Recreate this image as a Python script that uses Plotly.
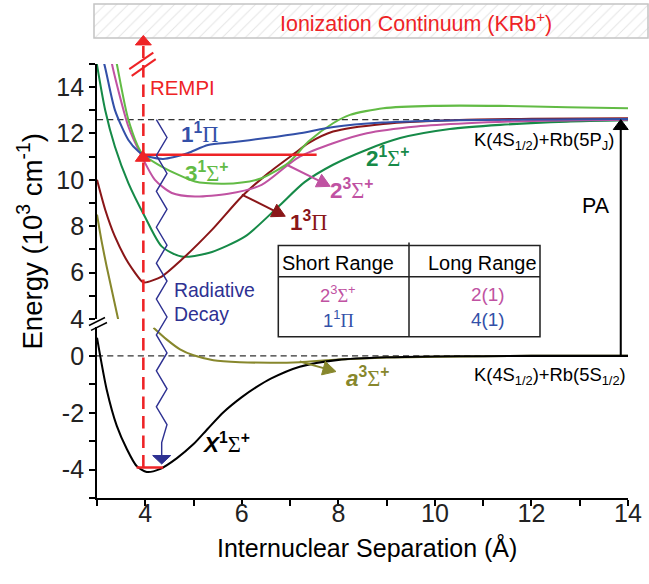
import plotly.graph_objects as go

# ---------------- potential-energy curves: R (Å), E (10^3 cm^-1) ----------------
# upper panel (excited states)
R_1PI = [3.05, 3.15, 3.37, 3.65, 3.86, 3.95, 4.1, 4.37, 4.6, 4.89, 5.3, 5.8, 6.5, 7.2, 7.9, 8.9, 10.0, 11.0, 12.0, 13.0, 14.0]
E_1PI = [15.6, 15.0, 13.02, 11.72, 11.22, 11.1, 10.98, 10.9, 10.98, 11.16, 11.5, 11.62, 11.8, 12.01, 12.28, 12.47, 12.55, 12.58, 12.6, 12.61, 12.62]

R_31S = [3.35, 3.41, 3.65, 3.93, 4.34, 5.03, 5.58, 6.0, 6.41, 6.96, 7.38, 7.89, 8.24, 8.93, 9.96, 11.35, 12.74, 14.0]
E_31S = [15.6, 15.0, 12.59, 11.15, 10.57, 9.93, 9.83, 9.88, 10.07, 10.72, 11.65, 12.44, 12.8, 13.09, 13.19, 13.19, 13.13, 13.09]

R_23S = [3.27, 3.31, 3.65, 3.93, 4.2, 4.55, 5.03, 5.72, 6.41, 6.96, 7.2, 7.89, 8.59, 9.62, 10.66, 12.04, 14.0]
E_23S = [15.6, 15.0, 12.3, 11.0, 10.0, 9.43, 9.28, 9.4, 9.78, 10.65, 11.0, 11.58, 12.01, 12.3, 12.44, 12.54, 12.59]

R_21S = [2.98, 3.17, 3.37, 3.65, 3.99, 4.34, 4.75, 5.31, 6.07, 6.76, 7.3, 7.89, 8.59, 9.28, 10.31, 11.35, 12.73, 14.0]
E_21S = [15.2, 13.0, 11.44, 9.86, 8.42, 7.13, 6.69, 6.84, 7.56, 8.85, 9.9, 10.65, 11.3, 11.8, 12.19, 12.37, 12.51, 12.57]

R_13P = [3.0, 3.17, 3.37, 3.65, 3.93, 3.99, 4.34, 4.75, 5.38, 6.0, 6.55, 7.1, 7.38, 7.89, 8.93, 10.66, 12.0, 14.0]
E_13P = [10.0, 8.71, 7.56, 6.41, 5.62, 5.57, 5.83, 6.55, 7.84, 9.28, 10.29, 11.15, 11.58, 12.08, 12.41, 12.59, 12.63, 12.66]

R_A3S_UP = [3.0, 3.1, 3.2, 3.44]
E_A3S_UP = [8.5, 7.3, 6.26, 3.97]

# lower panel (ground-state asymptote)
R_A3S_LO = [4.17, 4.44, 4.72, 5.0, 5.41, 5.96, 6.65, 7.2, 8.0, 9.0, 10.0, 11.0, 12.0, 14.0]
E_A3S_LO = [0.99, 0.58, 0.23, 0.02, -0.15, -0.22, -0.24, -0.22, -0.13, -0.06, -0.03, -0.01, 0.0, 0.0]

R_X1S = [3.0, 3.2, 3.41, 3.62, 3.82, 4.03, 4.3, 4.65, 5.0, 5.3, 5.62, 6.0, 6.3, 6.6, 7.2, 8.0, 9.0, 10.0, 11.0, 12.0, 14.0]
E_X1S = [0.64, -1.18, -2.46, -3.28, -3.87, -4.08, -3.98, -3.6, -3.1, -2.55, -1.98, -1.45, -1.1, -0.8, -0.38, -0.14, -0.05, -0.02, -0.01, 0.0, 0.0]

# levels and asymptotes
E_5P = 12.6          # K(4S1/2)+Rb(5PJ)
E_5S = 0.0           # K(4S1/2)+Rb(5S1/2)
E_PA = 11.08         # photoassociation level
E_X_V0 = -3.92       # X state v=0
R_REMPI = 3.96
R_PA_LINE = [3.96, 7.55]
R_V0_BAR = [3.82, 4.37]
R_PA_ARROW = 13.85

# axis ticks
X_TICKS = [4, 6, 8, 10, 12, 14]
X_MINOR = [3, 5, 7, 9, 11, 13]
UP_TICKS = [4, 6, 8, 10, 12, 14]
UP_MINOR = [5, 7, 9, 11, 13, 15]
LO_TICKS = [-4, -2, 0]
LO_MINOR = [-5, -3, -1]

# table contents
TABLE_HEAD = ["Short Range", "Long Range"]
TABLE_ROWS = [("2<sup>3</sup>Σ<sup>+</sup>", "2(1)"), ("1<sup>1</sup>Π", "4(1)")]

# ---------------- colours ----------------
C_BLUE = "#3350a8"
C_LGREEN = "#62bb45"
C_MAG = "#c052a2"
C_DGREEN = "#168a48"
C_DRED = "#8a1618"
C_OLIVE = "#87872c"
C_RED = "#ee2326"
C_NAVY = "#2e3192"
FONT = "Liberation Sans, Arial, sans-serif"
SERIF = "Liberation Serif"

# ---------------- geometry ----------------
# layout is designed on a 649 x 584 grid; S is the overall drawing scale
S = 1.0219
GW, GH = 649, 584
W, H = round(GW * S), round(GH * S)
X_RANGE = [3, 14]
UP_RANGE = [4, 15]
LO_RANGE = [-5, 1]
X_PX = [97, 628]
UP_PX = [319.5, 64]
LO_PX = [499, 328]


def k(v):
    return v * S


def xpix(r):
    return X_PX[0] + (r - X_RANGE[0]) / (X_RANGE[1] - X_RANGE[0]) * (X_PX[1] - X_PX[0])


def ypix_up(e):
    return UP_PX[0] + (e - UP_RANGE[0]) / (UP_RANGE[1] - UP_RANGE[0]) * (UP_PX[1] - UP_PX[0])


def ypix_lo(e):
    return LO_PX[0] + (e - LO_RANGE[0]) / (LO_RANGE[1] - LO_RANGE[0]) * (LO_PX[1] - LO_PX[0])


def px(x):
    return x / GW


def py(y):
    return 1 - y / GH


X_DOM = [px(X_PX[0]), px(X_PX[1])]
UP_DOM = [py(UP_PX[0]), py(UP_PX[1])]
LO_DOM = [py(LO_PX[0]), py(LO_PX[1])]

fig = go.Figure()


def curve(r, e, color, axis):
    fig.add_trace(go.Scatter(x=r, y=e, xaxis="x", yaxis=axis, mode="lines",
                             line=dict(color=color, width=k(2), shape="spline", smoothing=0.7),
                             hoverinfo="skip", showlegend=False))


curve(R_21S, E_21S, C_DGREEN, "y2")
curve(R_13P, E_13P, C_DRED, "y2")
curve(R_23S, E_23S, C_MAG, "y2")
curve(R_31S, E_31S, C_LGREEN, "y2")
curve(R_1PI, E_1PI, C_BLUE, "y2")
curve(R_A3S_UP, E_A3S_UP, C_OLIVE, "y2")
curve(R_A3S_LO, E_A3S_LO, C_OLIVE, "y")
curve(R_X1S, E_X1S, "black", "y")

# hatched ionization continuum band
fig.add_trace(go.Scatter(x=[0, 1, 1, 0, 0], y=[0, 0, 1, 1, 0], xaxis="x3", yaxis="y3",
                         mode="lines", fill="toself", fillcolor="white", line=dict(width=0),
                         fillpattern=dict(shape="/", fgcolor="#c9c9c9", bgcolor="white",
                                          size=k(8), solidity=0.12),
                         hoverinfo="skip", showlegend=False))

shapes = []
annots = []


def pline(x0, y0, x1, y1, color, width=2, dash="solid", layer="above"):
    shapes.append(dict(type="line", xref="paper", yref="paper", x0=px(x0), y0=py(y0),
                       x1=px(x1), y1=py(y1), line=dict(color=color, width=k(width), dash=dash),
                       layer=layer))


def ptri(pts, color):
    path = "M " + " L ".join(f"{px(a):.5f},{py(b):.5f}" for a, b in pts) + " Z"
    shapes.append(dict(type="path", xref="paper", yref="paper", path=path,
                       fillcolor=color, line=dict(color=color, width=1), layer="above"))


def arrow(x0, y0, x1, y1, color, width=2, hl=13, hw=7):
    dx, dy = x1 - x0, y1 - y0
    n = (dx * dx + dy * dy) ** 0.5
    ux, uy = dx / n, dy / n
    bx, by = x1 - ux * hl, y1 - uy * hl
    pline(x0, y0, bx + ux * 2, by + uy * 2, color, width)
    ptri([(x1, y1), (bx - uy * hw, by + ux * hw), (bx + uy * hw, by - ux * hw)], color)


def text(x, y, s, size, color="black", xanchor="center", angle=0):
    annots.append(dict(x=px(x), y=py(y), xref="paper", yref="paper", text=s, showarrow=False,
                       font=dict(family=FONT, size=k(size), color=color), xanchor=xanchor,
                       yanchor="middle", textangle=angle))


# asymptote dashed lines
dash_s = f"{k(6):.1f}px,{k(4):.1f}px"
shapes.append(dict(type="line", xref="x", yref="y2", x0=X_RANGE[0], x1=X_RANGE[1], y0=E_5P, y1=E_5P,
                   line=dict(color="#333333", width=k(1.3), dash=dash_s), layer="below"))
shapes.append(dict(type="line", xref="x", yref="y", x0=X_RANGE[0], x1=X_RANGE[1], y0=E_5S, y1=E_5S,
                   line=dict(color="#333333", width=k(1.3), dash=dash_s), layer="below"))

# ionization band border
shapes.append(dict(type="rect", xref="paper", yref="paper", x0=px(94), x1=px(648), y0=py(38), y1=py(4),
                   line=dict(color="#c4c4c4", width=k(1.5)), fillcolor="rgba(0,0,0,0)"))

# y-axis break marks
pline(89, 326, 105, 318, "black", 1.5)
pline(91, 331, 107, 323, "black", 1.5)

# red PA line and X v=0 bar
shapes.append(dict(type="line", xref="x", yref="y2", x0=R_PA_LINE[0], x1=R_PA_LINE[1], y0=E_PA, y1=E_PA,
                   line=dict(color=C_RED, width=k(2.5))))
shapes.append(dict(type="line", xref="x", yref="y", x0=R_V0_BAR[0], x1=R_V0_BAR[1], y0=E_X_V0, y1=E_X_V0,
                   line=dict(color=C_RED, width=k(2.5))))

# REMPI dashed line with arrow toward the continuum
xr = xpix(R_REMPI)
pline(xr, ypix_lo(E_X_V0), xr, 46, C_RED, 2.5, dash=f"{k(12):.1f}px,{k(7):.1f}px")
ptri([(xr, 35.5), (xr - 8, 45), (xr + 8, 45)], C_RED)
pline(129.3, 69.3, 153.3, 52.7, C_RED, 2)
pline(131.7, 76, 155.7, 59.3, C_RED, 2)
# excitation triangle
ty = ypix_up(E_PA)
ptri([(xr - 0.5, ty - 4), (xr - 8, ty + 6.5), (xr + 7, ty + 6.5)], C_RED)

# radiative decay zigzag
zx_l, zx_r = xpix(4.23), xpix(4.45)
z_top, z_end = ypix_up(E_5P), ypix_lo(-3.05)
nseg = 18
pts = []
for i in range(nseg + 1):
    yy = z_top + (z_end - z_top) * i / nseg
    pts.append((zx_l if i % 2 == 0 else zx_r, yy))
zc = (zx_l + zx_r) / 2
pts[-1] = (zc, z_end)
path = "M " + " L ".join(f"{px(a):.5f},{py(b):.5f}" for a, b in pts)
path += f" L {px(zc):.5f},{py(ypix_lo(-3.5)):.5f}"
shapes.append(dict(type="path", xref="paper", yref="paper", path=path,
                   line=dict(color=C_NAVY, width=k(1.4))))
tip = ypix_lo(-3.8)
ptri([(zc, tip), (zc - 9, tip - 8.5), (zc + 9, tip - 8.5)], C_NAVY)

# PA arrow between asymptotes
xa = xpix(R_PA_ARROW)
arrow(xa, ypix_lo(E_5S), xa, ypix_up(E_5P), "black", 2, hl=10, hw=7.5)

# label arrows
arrow(xpix(6.0), ypix_up(9.36), xpix(6.9), ypix_up(8.43), C_DRED, 2)
arrow(xpix(6.93), ypix_up(10.65), xpix(7.83), ypix_up(9.72), C_MAG, 2)
arrow(xpix(7.2), ypix_lo(-0.2), xpix(7.95), ypix_lo(-0.55), C_OLIVE, 2)

# table
T_L, T_R, T_T, T_B = 278.3, 540, 246, 337.3
shapes.append(dict(type="rect", xref="paper", yref="paper", x0=px(T_L), x1=px(T_R), y0=py(T_B), y1=py(T_T),
                   line=dict(color="#222222", width=k(1.5))))
pline(T_L, 277.3, T_R, 277.3, "#222222", 1.5)
pline(409, 243, 409, T_B, "#222222", 1.5)
text(337.5, 263, TABLE_HEAD[0], 19.5)
text(481.7, 263, TABLE_HEAD[1], 19.5)
for (a, b), yy, col in zip(TABLE_ROWS, [295, 320], [C_MAG, C_BLUE]):
    a = a.replace("Σ", f"<span style='font-family:{SERIF}'>Σ</span>").replace("Π", f"<span style='font-family:{SERIF}'>Π</span>")
    text(338.3, yy, a, 18, col)
    text(487.7, yy, b, 18.5, col)

# state labels
SIG = f"<span style='font-family:{SERIF}'>Σ</span>"
PI = f"<span style='font-family:{SERIF}'>Π</span>"
text(xpix(5.13), ypix_up(12.02), f"<b>1</b><sup><b>1</b></sup>{PI}", 22, C_BLUE)
text(xpix(5.27), ypix_up(10.33), f"<b>3</b><sup><b>1</b></sup>{SIG}<sup><b>+</b></sup>", 22, C_LGREEN)
text(xpix(8.28), ypix_up(9.62), f"<b>2</b><sup><b>3</b></sup>{SIG}<sup><b>+</b></sup>", 22, C_MAG)
text(xpix(9.03), ypix_up(11.0), f"<b>2</b><sup><b>1</b></sup>{SIG}<sup><b>+</b></sup>", 22, C_DGREEN)
text(xpix(7.39), ypix_up(8.24), f"<b>1</b><sup><b>3</b></sup>{PI}", 22, C_DRED)
text(xpix(8.62), ypix_lo(-0.75), f"<b><i>a</i></b><sup><b>3</b></sup>{SIG}<sup><b>+</b></sup>", 22, C_OLIVE)
text(xpix(5.68), ypix_lo(-3.07), f"<b><i>X</i></b><sup><b>1</b></sup>{SIG}<sup><b>+</b></sup>", 22, "black")

# other texts
text(182.7, 88.3, "REMPI", 20, C_RED)
text(171.7, 290.5, "Radiative", 19, C_NAVY, xanchor="left")
text(171.7, 315, "Decay", 19, C_NAVY, xanchor="left")
text(596, 206, "PA", 21)
text(616, 141, "K(4S<sub>1/2</sub>)+Rb(5P<sub>J</sub>)", 18, xanchor="right")
text(628, 377, "K(4S<sub>1/2</sub>)+Rb(5S<sub>1/2</sub>)", 18, xanchor="right")
text(416, 21.7, "Ionization Continuum (KRb<sup>+</sup>)", 21, C_RED)
text(367, 548, "Internuclear Separation (Å)", 24.5)
text(31, 242, "Energy (10<sup>3</sup> cm<sup>-1</sup>)", 27, angle=-90)

axis_common = dict(showline=True, linecolor="black", linewidth=k(1.5), ticks="outside", ticklen=k(6),
                   tickwidth=k(1.5), tickcolor="black", showgrid=False, zeroline=False,
                   tickfont=dict(family=FONT, size=k(24.5), color="#222222"))
minor_common = dict(ticks="outside", ticklen=k(6), tickwidth=k(1.5), tickcolor="black", showgrid=False)

fig.update_layout(
    width=W, height=H, margin=dict(l=0, r=0, t=0, b=0),
    paper_bgcolor="white", plot_bgcolor="white", showlegend=False,
    font=dict(family=FONT),
    xaxis=dict(domain=X_DOM, range=X_RANGE, anchor="y", tickvals=X_TICKS,
               ticklabelstandoff=round(k(-14)),
               minor=dict(tickvals=X_MINOR, **minor_common), **axis_common),
    yaxis=dict(domain=LO_DOM, range=LO_RANGE, anchor="x", tickvals=LO_TICKS,
               ticktext=[str(v) for v in LO_TICKS],
               minor=dict(tickvals=LO_MINOR, **minor_common), **axis_common),
    yaxis2=dict(domain=UP_DOM, range=UP_RANGE, anchor="x", tickvals=UP_TICKS,
                minor=dict(tickvals=UP_MINOR, **minor_common), **axis_common),
    xaxis3=dict(domain=[px(94), 1], range=[0, 1], visible=False, anchor="y3", fixedrange=True),
    yaxis3=dict(domain=[py(38), py(4)], range=[0, 1], visible=False, anchor="x3", fixedrange=True),
    shapes=shapes, annotations=annots,
)

fig.write_html("out.html", config={"displayModeBar": False})
